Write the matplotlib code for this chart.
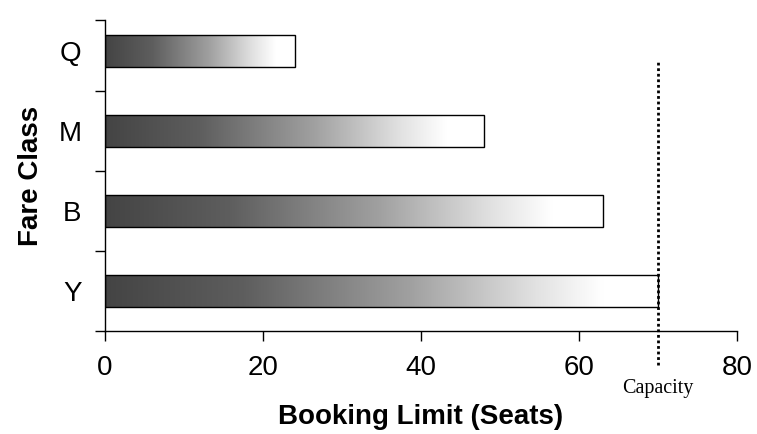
import numpy as np
import matplotlib.pyplot as plt
from matplotlib.colors import LinearSegmentedColormap
from matplotlib.patches import Rectangle

fare_classes = ["Y", "B", "M", "Q"]
booking_limits = [70, 63, 48, 24]
capacity = 70

plt.rcParams['font.family'] = ['Liberation Sans', 'DejaVu Sans']

fig = plt.figure(figsize=(7.57, 4.34), dpi=100)
ax = fig.add_axes([0.1387, 0.2373, 0.8349, 0.7166])

# stand-in for the halftone gradient of the original
cmap = LinearSegmentedColormap.from_list(
    "halftone", [(0.0, "#444444"), (0.25, "#5e5e5e"), (0.55, "#a0a0a0"),
                 (0.78, "#e2e2e2"), (0.9, "#ffffff"), (1.0, "#ffffff")])
grad = np.linspace(0, 1, 256).reshape(1, -1)

bar_h = 0.4
ypos = np.arange(len(fare_classes))
for y, val in zip(ypos, booking_limits):
    rect = Rectangle((0, y - bar_h / 2), val, bar_h, facecolor="none",
                     edgecolor="black", linewidth=1.0, zorder=3)
    ax.add_patch(rect)
    im = ax.imshow(grad, cmap=cmap, aspect="auto", vmin=0, vmax=1,
                   extent=(0, val, y - bar_h / 2, y + bar_h / 2), zorder=2)
    im.set_clip_path(rect)

ax.set_xlim(0, 80)
ax.set_ylim(-0.5, 3.3875)
ax.set_aspect("auto")

ax.set_xticks([0, 20, 40, 60, 80])
ax.set_yticks(ypos)
ax.set_yticklabels(fare_classes)
ax.set_yticks([-0.5, 0.5, 1.5, 2.5, 3.3875], minor=True)
ax.tick_params(axis="y", which="major", length=0, pad=17, labelsize=20)
ax.tick_params(axis="y", which="minor", length=7, width=1, direction="out")
ax.tick_params(axis="x", length=7, width=1, direction="out", pad=10, labelsize=20)

for s in ["top", "right"]:
    ax.spines[s].set_visible(False)
ax.spines["left"].set_linewidth(1)
ax.spines["bottom"].set_linewidth(1)

ax.axvline(capacity, ymin=-0.109, ymax=0.865, color="black", linestyle=(0, (1, 1)),
           linewidth=2, clip_on=False, zorder=4)
ax.text(capacity, -0.186, "Capacity", transform=ax.get_xaxis_transform(),
        ha="center", va="center", fontsize=14.5, family="Liberation Serif")

ax.set_xlabel("Booking Limit (Seats)", fontsize=20, fontweight="bold", labelpad=17)
ax.set_ylabel("Fare Class", fontsize=20, fontweight="bold", labelpad=10)

fig.savefig("out.png", dpi=100)
